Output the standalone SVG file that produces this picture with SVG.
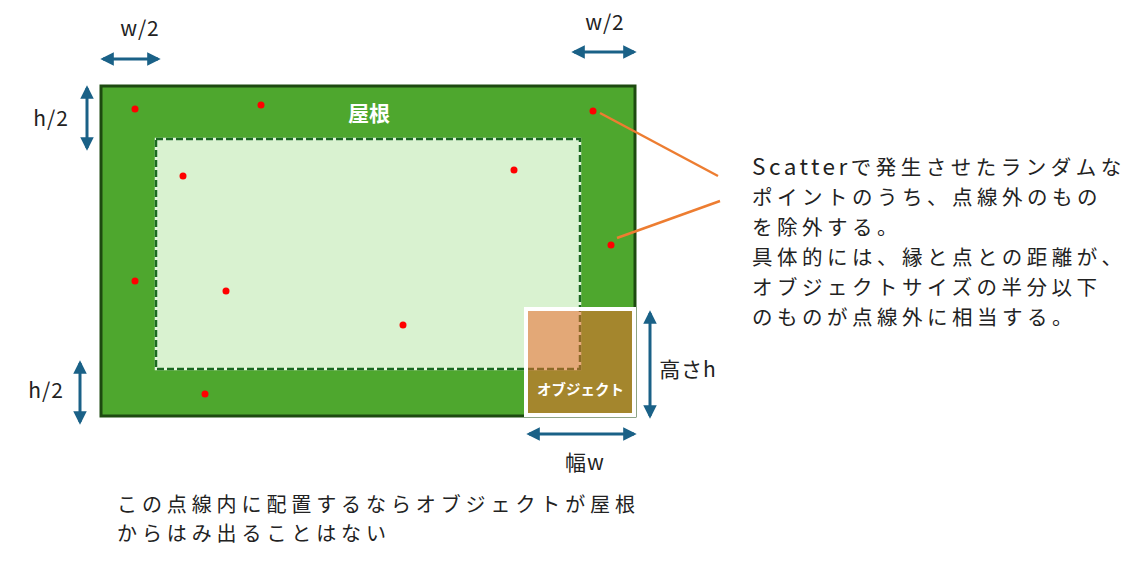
<svg xmlns="http://www.w3.org/2000/svg" width="1142" height="565" viewBox="0 0 1142 565">
<style>
.t{font-family:"Noto Sans CJK JP","Noto Sans",sans-serif;font-size:20.5px;letter-spacing:4.5px;fill:#222;}
.c{font-family:"Noto Sans CJK JP","Noto Sans",sans-serif;font-size:20px;letter-spacing:4.9px;fill:#222;}
.lat{font-size:22.5px;letter-spacing:3.5px;}
.lbl{font-family:"Noto Sans CJK JP","Noto Sans",sans-serif;font-size:21px;letter-spacing:1px;fill:#222;}
.arr{stroke:#1a6187;stroke-width:3;fill:none;marker-start:url(#ah);marker-end:url(#ah);}
.dot{fill:#ff0000;}
.lead{stroke:#ed7d31;stroke-width:2.5;fill:none;}
</style>
<defs>
<marker id="ah" viewBox="0 0 10 10" refX="8" refY="5" markerWidth="4.5" markerHeight="4.5" orient="auto-start-reverse" markerUnits="strokeWidth">
<path d="M0,0 L10,5 L0,10 Z" fill="#1a6187"/>
</marker>
</defs>
<rect width="1142" height="565" fill="#ffffff"/>
<g id="roof">
<rect x="101" y="86" width="534" height="330" fill="#4ea72e" stroke="#1d4a10" stroke-width="3"/>
<text x="369" y="121" text-anchor="middle" font-family="'Noto Sans CJK JP',sans-serif" font-size="21" font-weight="bold" fill="#ffffff">屋根</text>
</g>
<g id="inner-area">
<rect x="156" y="139" width="424" height="230" fill="#d9f2d0" stroke="#e8f5e2" stroke-width="2.5"/>
<rect x="156" y="139" width="424" height="230" fill="none" stroke="#1b6a21" stroke-width="2.5" stroke-dasharray="7 3"/>
</g>
<g id="points">
<circle class="dot" cx="135" cy="109" r="3.5"/>
<circle class="dot" cx="261" cy="105" r="3.5"/>
<circle class="dot" cx="593" cy="111" r="3.5"/>
<circle class="dot" cx="183" cy="176" r="3.5"/>
<circle class="dot" cx="514" cy="170" r="3.5"/>
<circle class="dot" cx="611" cy="245" r="3.5"/>
<circle class="dot" cx="135" cy="281" r="3.5"/>
<circle class="dot" cx="226" cy="291" r="3.5"/>
<circle class="dot" cx="403" cy="325" r="3.5"/>
<circle class="dot" cx="205" cy="394" r="3.5"/>
</g>
<g id="object">
<rect x="526" y="309" width="108" height="106" fill="#eb6b2e" fill-opacity="0.55"/>
<rect x="526" y="309" width="108" height="106" fill="none" stroke="#ffffff" stroke-width="4"/>
<text x="580.5" y="395" text-anchor="middle" font-family="'Noto Sans CJK JP',sans-serif" font-size="14.5" font-weight="bold" fill="#ffffff">オブジェクト</text>
</g>
<g id="connectors">
<line class="arr" x1="103" y1="59" x2="158" y2="59"/>
<line class="arr" x1="574" y1="52" x2="634" y2="52"/>
<line class="arr" x1="87" y1="88" x2="87" y2="148"/>
<line class="arr" x1="80" y1="363" x2="80" y2="422"/>
<line class="arr" x1="650" y1="313" x2="650" y2="416"/>
<line class="arr" x1="529" y1="434" x2="634" y2="434"/>
<line class="lead" x1="600" y1="113" x2="718" y2="176"/>
<line class="lead" x1="617" y1="238" x2="720" y2="201"/>
</g>
<g id="labels">
<text class="lbl" x="140" y="36" text-anchor="middle">w/2</text>
<text class="lbl" x="605" y="30" text-anchor="middle">w/2</text>
<text class="lbl" x="51" y="126" text-anchor="middle">h/2</text>
<text class="lbl" x="46" y="398" text-anchor="middle">h/2</text>
<text class="lbl" x="688" y="377" text-anchor="middle">高さh</text>
<text class="lbl" x="585" y="470" text-anchor="middle">幅w</text>
</g>
<g id="note">
<text class="t" x="752" y="175"><tspan class="lat">Scatter</tspan>で発生させたランダムな</text>
<text class="t" x="752" y="205">ポイントのうち、点線外のもの</text>
<text class="t" x="752" y="235">を除外する。</text>
<text class="t" x="752" y="265">具体的には、縁と点との距離が、</text>
<text class="t" x="752" y="295">オブジェクトサイズの半分以下</text>
<text class="t" x="752" y="325">のものが点線外に相当する。</text>
</g>
<g id="caption">
<text class="c" x="117" y="512">この点線内に配置するならオブジェクトが屋根</text>
<text class="c" x="117" y="541">からはみ出ることはない</text>
</g>
</svg>
